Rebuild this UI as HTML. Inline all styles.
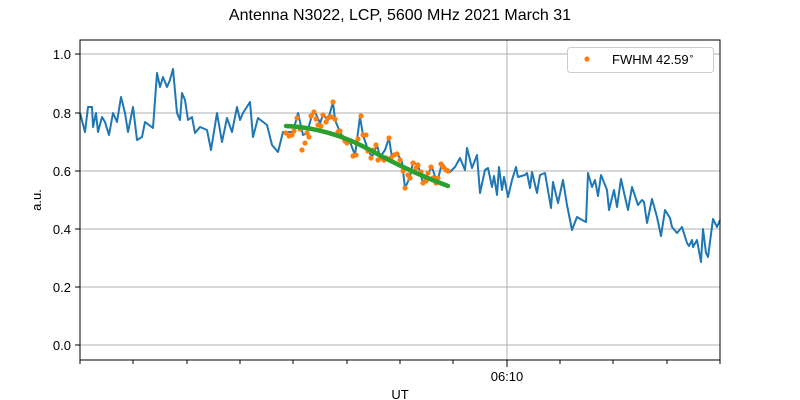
<!DOCTYPE html>
<html><head><style>body{margin:0;background:#fff}svg{display:block;font-family:"Liberation Sans","DejaVu Sans",sans-serif}</style></head><body>
<svg width="800" height="400" viewBox="0 0 800 400">
<text x="400" y="20" font-size="16" text-anchor="middle">Antenna N3022, LCP, 5600 MHz 2021 March 31</text>
<g stroke="#b0b0b0" stroke-width="1">
<line x1="80" x2="720" y1="54" y2="54"/><line x1="80" x2="720" y1="113" y2="113"/><line x1="80" x2="720" y1="171" y2="171"/><line x1="80" x2="720" y1="229" y2="229"/><line x1="80" x2="720" y1="287" y2="287"/><line x1="80" x2="720" y1="345" y2="345"/>
<line x1="507" x2="507" y1="40" y2="360"/>
</g>
<polyline fill="none" stroke="#1f77b4" stroke-width="2" stroke-linejoin="round" points="80,113 85,132 88,107 92,107 93,127 96,113 98,132 102,117 105,122 109,135 113,113 117,122 121,97 125,113 128,132 133,107 137,140 142,137 145,122 153,128 157,73 160,87 163,77 167,87 170,80 173,69 177,113 180,120 182,93 185,100 188,120 192,117 195,133 200,127 207,130 211,150 217,113 222,142 227,118 232,132 237,107 240,120 243,113 250,102 253,137 258,118 267,125 272,145 278,152 283,132 293,132 298,113 303,135 307,133 312,115 315,112 320,123 323,115 328,120 333,102 335,120 340,132 345,140 350,142 355,155 360,117 363,135 368,150 372,157 377,145 380,157 385,150 389,138 392,158 397,153 402,162 405,188 410,177 413,162 418,165 423,183 427,175 432,167 437,183 442,163 447,170 450,172 455,167 460,158 465,170 467,148 472,168 477,155 480,193 485,170 488,168 492,187 494,176 497,195 499,167 502,190 504,177 508,197 512,180 516,167 518,177 525,175 527,173 530,188 532,172 537,193 540,175 545,173 551,208 553,182 558,203 563,180 567,205 572,230 577,217 582,220 586,222 588,173 592,187 595,180 598,196 601,175 607,190 609,210 614,190 617,207 621,179 625,197 628,210 632,187 633,190 638,205 642,200 644,202 647,223 652,199 657,217 661,236 665,210 670,218 672,227 677,233 682,227 687,243 689,246 692,240 693,247 697,240 701,262 703,229 706,253 708,257 713,219 717,227 720,220"/>
<g fill="#ff7f0e">
<circle cx="286" cy="133" r="2.6"/><circle cx="289" cy="136" r="2.6"/><circle cx="292" cy="135" r="2.6"/><circle cx="294" cy="131" r="2.6"/><circle cx="297" cy="118" r="2.6"/><circle cx="300" cy="129" r="2.6"/><circle cx="302" cy="150" r="2.6"/><circle cx="305" cy="143" r="2.6"/><circle cx="307" cy="133" r="2.6"/><circle cx="309" cy="137" r="2.6"/><circle cx="311" cy="116" r="2.6"/><circle cx="314" cy="112" r="2.6"/><circle cx="316" cy="119" r="2.6"/><circle cx="318" cy="125" r="2.6"/><circle cx="321" cy="126" r="2.6"/><circle cx="323" cy="115" r="2.6"/><circle cx="326" cy="122" r="2.6"/><circle cx="328" cy="118" r="2.6"/><circle cx="331" cy="117" r="2.6"/><circle cx="333" cy="102" r="2.6"/><circle cx="335" cy="119" r="2.6"/><circle cx="338" cy="132" r="2.6"/><circle cx="340" cy="131" r="2.6"/><circle cx="342" cy="137" r="2.6"/><circle cx="345" cy="141" r="2.6"/><circle cx="347" cy="143" r="2.6"/><circle cx="350" cy="141" r="2.6"/><circle cx="353" cy="156" r="2.6"/><circle cx="356" cy="155" r="2.6"/><circle cx="358" cy="139" r="2.6"/><circle cx="361" cy="116" r="2.6"/><circle cx="363" cy="135" r="2.6"/><circle cx="366" cy="135" r="2.6"/><circle cx="368" cy="151" r="2.6"/><circle cx="371" cy="158" r="2.6"/><circle cx="373" cy="150" r="2.6"/><circle cx="376" cy="145" r="2.6"/><circle cx="378" cy="160" r="2.6"/><circle cx="381" cy="158" r="2.6"/><circle cx="384" cy="160" r="2.6"/><circle cx="386" cy="158" r="2.6"/><circle cx="389" cy="138" r="2.6"/><circle cx="391" cy="158" r="2.6"/><circle cx="394" cy="155" r="2.6"/><circle cx="397" cy="154" r="2.6"/><circle cx="400" cy="160" r="2.6"/><circle cx="403" cy="171" r="2.6"/><circle cx="405" cy="188" r="2.6"/><circle cx="408" cy="175" r="2.6"/><circle cx="410" cy="178" r="2.6"/><circle cx="413" cy="163" r="2.6"/><circle cx="416" cy="168" r="2.6"/><circle cx="418" cy="165" r="2.6"/><circle cx="421" cy="172" r="2.6"/><circle cx="423" cy="183" r="2.6"/><circle cx="426" cy="181" r="2.6"/><circle cx="428" cy="173" r="2.6"/><circle cx="431" cy="167" r="2.6"/><circle cx="433" cy="178" r="2.6"/><circle cx="436" cy="183" r="2.6"/><circle cx="438" cy="178" r="2.6"/><circle cx="441" cy="164" r="2.6"/><circle cx="443" cy="167" r="2.6"/><circle cx="446" cy="170" r="2.6"/><circle cx="448" cy="171" r="2.6"/>
</g>
<path d="M286,126 Q330,128 370,150 T448,186" fill="none" stroke="#2ca02c" stroke-width="4.5" stroke-linecap="round"/>
<rect x="80" y="40" width="640" height="320" fill="none" stroke="#000" stroke-width="1"/>
<g stroke="#000" stroke-width="1">
<line x1="75" x2="80" y1="54" y2="54"/><line x1="75" x2="80" y1="113" y2="113"/><line x1="75" x2="80" y1="171" y2="171"/><line x1="75" x2="80" y1="229" y2="229"/><line x1="75" x2="80" y1="287" y2="287"/><line x1="75" x2="80" y1="345" y2="345"/>
<line x1="507" x2="507" y1="360" y2="367"/>
<line x1="80" x2="80" y1="360" y2="364"/><line x1="133" x2="133" y1="360" y2="364"/><line x1="187" x2="187" y1="360" y2="364"/><line x1="240" x2="240" y1="360" y2="364"/><line x1="293" x2="293" y1="360" y2="364"/><line x1="347" x2="347" y1="360" y2="364"/><line x1="400" x2="400" y1="360" y2="364"/><line x1="453" x2="453" y1="360" y2="364"/><line x1="560" x2="560" y1="360" y2="364"/><line x1="613" x2="613" y1="360" y2="364"/><line x1="667" x2="667" y1="360" y2="364"/><line x1="720" x2="720" y1="360" y2="364"/>
</g>
<g font-size="13" text-anchor="end">
<text x="71" y="59">1.0</text><text x="71" y="118">0.8</text><text x="71" y="176">0.6</text><text x="71" y="234">0.4</text><text x="71" y="292">0.2</text><text x="71" y="350">0.0</text>
</g>
<text x="507" y="381" font-size="13" text-anchor="middle">06:10</text>
<text x="400" y="399" font-size="13" text-anchor="middle">UT</text>
<text x="41" y="200" font-size="13" text-anchor="middle" transform="rotate(-90 41 200)">a.u.</text>
<rect x="567.5" y="47.5" width="146" height="25" rx="3" fill="#fff" stroke="#ccc"/>
<circle cx="587" cy="59" r="2.6" fill="#ff7f0e"/>
<text x="612" y="64" font-size="13">FWHM 42.59<tspan font-size="9" dy="-5">∘</tspan></text>
</svg>
</body></html>
